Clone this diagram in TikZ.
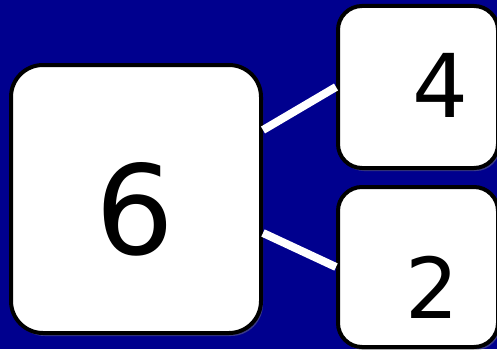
\documentclass[tikz,border=0pt]{standalone}
\usepackage{fontspec}
\setmainfont{DejaVu Sans}
\usetikzlibrary{positioning,calc,shadows}
\definecolor{bgblue}{HTML}{00008E}
\tikzset{card/.style={draw=black,fill=white,line width=4pt,rounded corners=32pt,drop shadow={shadow xshift=2pt,shadow yshift=-3pt,opacity=0.45}}, small/.style={card,rounded corners=24pt}, num/.style={inner sep=0pt,text=black}, bond/.style={draw=white,line width=8pt,drop shadow={shadow xshift=2pt,shadow yshift=-2pt,opacity=0.35}}}

\begin{document}
\begin{tikzpicture}[x=1pt,y=1pt]
\useasboundingbox (0,0) rectangle (497,349);
\fill[bgblue] (0,0) rectangle (497,349);
\node[card,minimum width=250pt,minimum height=268pt] (whole) at (136,150) {};
\node[small,minimum width=160pt,minimum height=162pt] (top) at (418,262) {};
\node[small,minimum width=160pt,minimum height=160pt] (bot) at (418,82) {};
\node[num,font=\fontsize{124}{124}\selectfont] (six) at (135,140) {6};
\node[num,font=\fontsize{88}{88}\selectfont] (four) at (440,264) {4};
\node[num,font=\fontsize{84}{84}\selectfont] (two) at (432,62) {2};
\draw[bond] ([yshift=69pt]whole.east) -- (top.west);
\draw[bond] ([yshift=-34pt]whole.east) -- (bot.west);
\end{tikzpicture}
\end{document}
